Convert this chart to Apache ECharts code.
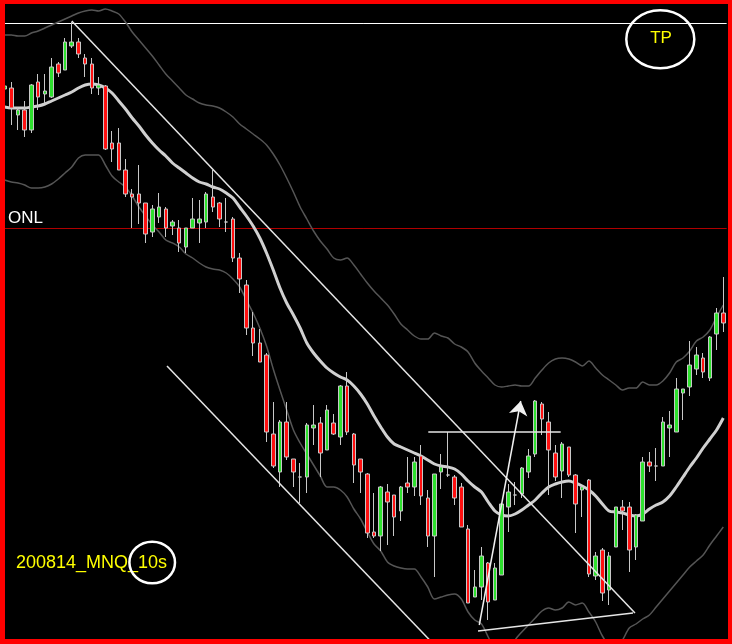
<!DOCTYPE html>
<html><head><meta charset="utf-8">
<script src="https://cdn.jsdelivr.net/npm/echarts@6/dist/echarts.min.js"></script>
<style>html,body{margin:0;padding:0;background:#000;}#c{width:732px;height:644px;}</style>
</head><body><div id="c"></div>
<script>
// 10-second bars, MNQ 2020-08-14 (prices in index points)
const OPEN = [11277.75,11278,11271.25,11272.5,11267.5,11279.5,11276.5,11275.75,11284,11282.5,
11288.5,11289.5,11285.5,11284,11278,11278.5,11264.25,11264.25,11257.5,11251.5,
11251.5,11249.25,11242,11245.75,11247.75,11243.5,11243,11238.25,11243,11244.25,
11244.5,11250.75,11249.25,11244.5,11245.25,11235.5,11228.75,11218,11214.25,11211.25,
11191.5,11182,11194.5,11185.25,11180.75,11180.75,11193,11194.25,11187.5,11194.25,
11190.75,11203.5,11191.5,11185.25,11181.5,11167,11166,11177,11176.25,11172.25,
11179.25,11178.25,11186,11175.5,11166,11182,11181.25,11180.75,11178.25,11167.75,
11150.75,11153.25,11159.25,11150,11156.25,11173.25,11176.25,11176.5,11182,11186.5,
11199,11194.5,11186.75,11182.25,11188.25,11181.25,11177.5,11180,11156,11162.5,
11152.5,11163.25,11173.25,11173.25,11163.25,11169.75,11184.5,11183.5,11183.5,11193,
11192,11201.75,11203.25,11207.75,11210.5,11205.5,11216.5,11221.75];
const CLOSE = [11278.5,11273,11272.5,11267.5,11278.75,11275.75,11277.25,11283.25,11281.75,11289.5,
11289.5,11286.5,11284,11278,11278.75,11262.75,11262.75,11257.5,11251.5,11250.75,
11249.25,11241.5,11247.75,11248.25,11243,11244.5,11239.25,11243,11245.25,11245.25,
11251.5,11248.25,11245.25,11244.5,11235.5,11230.25,11218,11214.25,11209.5,11192,
11183.5,11194.5,11185.75,11182,11180.75,11193.75,11193.75,11186.75,11197.5,11191.5,
11203.5,11192,11183.75,11182,11166.75,11166,11178.25,11174.5,11170.75,11178.25,
11178.25,11184.5,11176,11166,11181.5,11183.25,11181.25,11175.5,11168.25,11149.25,
11153.25,11161,11149.5,11158,11174,11177,11176.25,11183,11186,11199.75,
11195.25,11187.5,11180.75,11189,11181.25,11174,11178.25,11156.5,11161,11151.75,
11161,11173.25,11172.25,11162.5,11171.25,11184.5,11183.5,11183.5,11194.5,11193.75,
11202.75,11202.75,11208.75,11211.25,11207,11215.75,11221.75,11219.25];
const LOW = [11277,11268.75,11267.5,11265.75,11266.75,11272.5,11274.25,11275.5,11280.75,11282.5,
11288,11285.5,11280.75,11276.5,11276.25,11262.5,11259.5,11257.5,11250.75,11243,
11244,11239.25,11240.75,11244.25,11240.75,11241.25,11237,11236.75,11243,11239.25,
11243,11247,11243.25,11242,11234.5,11226.75,11216.25,11211,11209.5,11189.5,
11183,11178.25,11185,11178.25,11174.25,11176.75,11188.75,11180.75,11187.5,11191.25,
11188.75,11191.25,11179.25,11176.75,11165.5,11165.5,11162.25,11163.75,11166,11169.75,
11176.75,11176,11173.75,11163.25,11155.75,11177.75,11180.75,11173.75,11168.25,11149.25,
11150.75,11150,11145,11150,11156.25,11167,11173.75,11175.5,11180.5,11185.75,
11191.25,11176.25,11179.75,11175.5,11180.75,11166.75,11170.75,11155.75,11155,11149.75,
11148.75,11163.25,11167.5,11157,11160,11169.75,11182,11179.75,11183.5,11185.75,
11192,11195,11201,11206.25,11205.5,11204.75,11212.5,11217];
const HIGH = [11279.5,11279.5,11273.25,11274.75,11279,11281.5,11281.5,11285.5,11284.5,11290.5,
11294.5,11290.5,11286.5,11285.5,11280.75,11278.75,11267.25,11268,11260.25,11252.75,
11258.75,11249.25,11248.75,11251.75,11248.25,11245,11245,11243,11250.5,11250,
11252,11257.5,11249.5,11250.5,11245.75,11236.75,11230,11222,11217.75,11211.75,
11199.5,11195,11199.5,11185.25,11184.25,11194.25,11198.75,11195.75,11198.75,11196.5,
11203.75,11207,11191.75,11185.25,11181.75,11176.75,11178.5,11179,11176.25,11178.5,
11185.75,11185.75,11188.75,11177.5,11181.5,11186.5,11192,11181.25,11179.25,11168.75,
11157.5,11163.25,11159.5,11159.25,11174.25,11179,11179.5,11183.25,11187.75,11200,
11199.5,11197,11188.75,11189.5,11188.25,11181.5,11178.5,11180.25,11162,11163,
11162,11173.25,11175,11174.5,11171.5,11185.75,11187,11188,11195.75,11197.25,
11205.5,11202.75,11214.75,11213.25,11211.75,11216,11223,11230.75];
// moving average and envelope bands
const MA = [11273.25,11273,11273,11273,11273.25,11273.5,11274,11274.75,11275.5,11276.25,
11277,11278,11278.75,11279,11278.75,11278,11276.75,11274.75,11272.75,11270.5,
11268.5,11266.25,11264.25,11262.5,11261,11259.25,11258,11256.75,11255.5,11254.5,
11254,11253.25,11252.75,11251.75,11250.5,11248.25,11246,11243.5,11240.5,11236.75,
11232.5,11228,11224.25,11221.25,11218,11214.25,11211.75,11209.75,11208,11206.75,
11205.75,11205,11203.5,11201.5,11199,11196,11193.25,11190.75,11189,11188.25,
11187.5,11186.75,11186,11185,11184,11183.5,11183.25,11182.75,11181.5,11179.75,
11178.25,11177,11174.5,11172.25,11171.25,11171,11171.5,11172.5,11173.75,11175,
11176.75,11178.25,11179,11179.5,11179.75,11179.25,11178.5,11177.5,11176,11174,
11172.25,11172,11171.75,11171.25,11171,11171.5,11172.75,11173.75,11174.5,11176,
11178.25,11180.75,11183.25,11185.5,11188,11190.25,11192.5,11195.5];
const UPPER = [11291.25,11291.25,11291,11291,11291.75,11292.25,11293,11293.75,11294.5,11295.25,
11296,11296.75,11297.25,11297.5,11297.25,11297.75,11297.25,11296.5,11294.5,11292,
11290,11288,11286,11283.75,11281.5,11279.75,11278,11276.25,11275.25,11274.25,
11273.75,11273.5,11273,11272,11270.75,11269,11267.75,11266.5,11265.25,11263.75,
11261.5,11258.75,11255.5,11252,11248.25,11245.25,11242.25,11239.75,11237.75,11235.5,
11235,11235.5,11233.75,11231.5,11229.25,11227.25,11225.5,11223.75,11221.5,11219,
11217.5,11216,11215.25,11215.25,11216.75,11216,11215.5,11214,11213.25,11212,
11209.25,11207.25,11205.5,11203.75,11203.25,11203.5,11203.75,11203.5,11203.5,11205.5,
11207.5,11209.25,11210.25,11210.5,11210.25,11209.5,11208.5,11209.75,11208,11206.25,
11205,11203.75,11202.5,11203,11203,11204.5,11203.75,11203.75,11204.75,11206.75,
11209.5,11210.5,11212.25,11214.75,11215.75,11217.5,11220.75,11223.75];
const LOWER = [11255,11254.5,11254.25,11253.75,11253,11253,11253.25,11254,11255.25,11256.75,
11258.25,11260.5,11261.25,11261.25,11261.25,11258.75,11256,11254.5,11253.25,11251,
11248.25,11246,11243.75,11242,11240,11239.25,11238.25,11236.5,11235.5,11234.25,
11233.25,11232.75,11232.5,11231.75,11230.25,11228.25,11225,11221.75,11218,11213.5,
11207.75,11202.5,11197.5,11192.5,11189.25,11186.5,11183.75,11181,11178.25,11178.25,
11177.5,11175.75,11172.75,11170.25,11167,11164,11162.25,11159.5,11158.5,11158,
11157.75,11157.75,11155.75,11153.25,11150.25,11150.75,11151.25,11151.5,11150.25,11147,
11145,11144,11140.75,11137.5,11136.25,11137,11140,11142,11143.75,11145.5,
11147.25,11148,11147.5,11148,11149.5,11148.75,11149.25,11147,11144.5,11141,
11138.75,11138,11140,11143,11144,11145.25,11146.25,11148.25,11150.25,11152.25,
11154.25,11156.25,11158.25,11159.75,11161.25,11163.75,11166,11168.25];
// reference levels
const TP_LEVEL = 11294.125;
const ONL_LEVEL = 11242.875;
// drawn annotations as [bar index, price]
const DOWN_TREND = [[10, 11294.75], [93.85, 11146.75]];
const CHANNEL = [[24.18, 11208.5], [63.28, 11140]];
const BASE_LINE = [[70.48, 11142.25], [93.56, 11146.75]];
const RESIST = [[63.08, 11192], [82.79, 11192]];
const ARROW = [[70.67, 11143.75], [76.84, 11199.75]];
const CATEGORIES = OPEN.map((_, i) => String(i + 1));
const N = CATEGORIES.length;

const chart = echarts.init(document.getElementById('c'), null, {renderer: 'canvas'});
const candles = OPEN.map((o, i) => [o, CLOSE[i], LOW[i], HIGH[i]]);
const band = (d) => ({type: 'line', data: d, symbol: 'none', smooth: 0.3, silent: true,
  lineStyle: {color: '#555555', width: 1.5}, z: 1});
chart.setOption({
  animation: false,
  backgroundColor: '#000000',
  grid: {left: 1.22, width: 725.44, top: 4, bottom: 5},
  xAxis: [
    {type: 'category', data: CATEGORIES, boundaryGap: true, show: false},
    {type: 'value', min: -0.5, max: N - 0.5, show: false}
  ],
  yAxis: {type: 'value', min: 11140.25, max: 11299, show: false, splitLine: {show: false}},
  series: [
    {type: 'lines', coordinateSystem: 'cartesian2d', xAxisIndex: 1, silent: true, z: 1,
      lineStyle: {color: '#ffffff', width: 1, opacity: 1},
      data: [{coords: [[-0.5, TP_LEVEL], [N - 0.5, TP_LEVEL]]}]},
    {type: 'lines', coordinateSystem: 'cartesian2d', xAxisIndex: 1, silent: true, z: 1,
      lineStyle: {color: '#b00000', width: 1, opacity: 1},
      data: [{coords: [[-0.5, ONL_LEVEL], [N - 0.5, ONL_LEVEL]]}]},
    band(UPPER),
    band(LOWER),
    {type: 'line', data: MA, symbol: 'none', smooth: 0.3, silent: true, z: 2,
      lineStyle: {color: '#d0d0d0', width: 3}},
    {type: 'candlestick', data: candles, barWidth: 4, z: 3,
      itemStyle: {color: '#2ee02e', color0: '#ff1010', borderColor: '#c8c8c8',
        borderColor0: '#c8c8c8', borderColorDoji: '#c8c8c8', borderWidth: 1}},
    {type: 'lines', coordinateSystem: 'cartesian2d', xAxisIndex: 1, silent: true, z: 4,
      lineStyle: {color: '#e6e6e6', width: 1.5, opacity: 1},
      data: [{coords: DOWN_TREND}, {coords: CHANNEL}, {coords: BASE_LINE}, {coords: RESIST}]},
    {type: 'lines', coordinateSystem: 'cartesian2d', xAxisIndex: 1, silent: true, z: 4,
      symbol: ['none', 'arrow'], symbolSize: [9, 14],
      lineStyle: {color: '#f0f0f0', width: 1.5, opacity: 1},
      data: [{coords: ARROW}]}
  ],
  graphic: [
    {type: 'text', x: 8, y: 218, z: 100, style: {text: 'ONL', fill: '#ffffff',
      font: '17px "Liberation Sans", Arial, sans-serif', align: 'left', verticalAlign: 'middle'}},
    {type: 'ellipse', z: 100, shape: {cx: 660.3, cy: 39.2, rx: 34, ry: 29},
      style: {fill: 'none', stroke: '#ffffff', lineWidth: 2.5}},
    {type: 'text', x: 661, y: 38.5, z: 100, style: {text: 'TP', fill: '#ffff00',
      font: '17px "Liberation Sans", Arial, sans-serif', align: 'center', verticalAlign: 'middle'}},
    {type: 'text', x: 16, y: 563.5, z: 100, style: {text: '200814_MNQ_10s', fill: '#ffff00',
      font: '18px "Liberation Sans", Arial, sans-serif', align: 'left', verticalAlign: 'middle'}},
    {type: 'ellipse', z: 100, shape: {cx: 152.2, cy: 562.5, rx: 22.8, ry: 20.8},
      style: {fill: 'none', stroke: '#ffffff', lineWidth: 2.5}},
    {type: 'rect', z: 200, shape: {x: 0, y: 0, width: 5, height: 644}, style: {fill: '#ff0000'}},
    {type: 'rect', z: 200, shape: {x: 728, y: 0, width: 4, height: 644}, style: {fill: '#ff0000'}},
    {type: 'rect', z: 200, shape: {x: 0, y: 0, width: 732, height: 4}, style: {fill: '#ff0000'}},
    {type: 'rect', z: 200, shape: {x: 0, y: 639, width: 732, height: 5}, style: {fill: '#ff0000'}}
  ]
});
</script></body></html>
